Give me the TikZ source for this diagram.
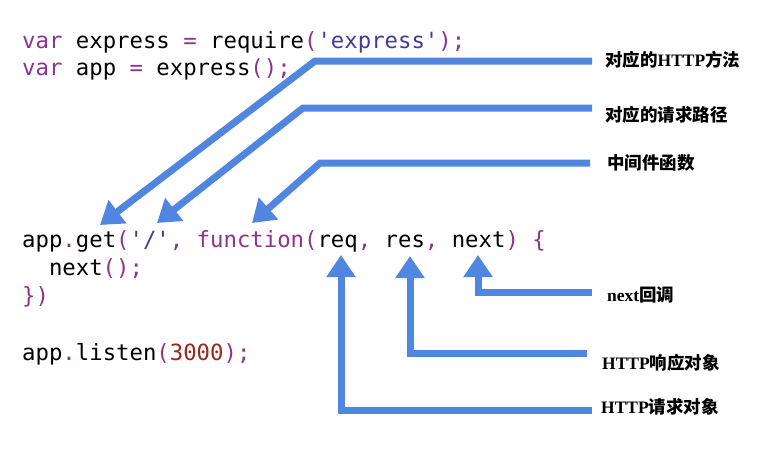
\documentclass[tikz,border=0pt]{standalone}
\usepackage{fontspec}
\usepackage{xcolor}
\usetikzlibrary{arrows.meta}
\setmonofont{DejaVu Sans Mono}
\newfontfamily\cjk{Noto Sans CJK SC}
\newfontfamily\latinlab{Liberation Serif}
\definecolor{kwpurple}{RGB}{140,52,140}
\definecolor{strblue}{RGB}{62,60,158}
\definecolor{numred}{RGB}{150,40,25}
\definecolor{arrowblue}{RGB}{80,134,224}
\newcommand{\kw}[1]{\textcolor{kwpurple}{#1}}
\newcommand{\str}[1]{\textcolor{strblue}{#1}}
\newcommand{\num}[1]{\textcolor{numred}{#1}}
\newcommand{\lt}[1]{{\latinlab\bfseries #1}}

\begin{document}
\begin{tikzpicture}[x=1pt, y=-1pt,
    codeline/.style={anchor=base west, inner sep=0pt, font=\ttfamily\fontsize{22.3}{28}\selectfont},
    lab/.style={anchor=west, inner sep=0pt, font=\cjk\bfseries\fontsize{17.5}{20}\selectfont},
    callout/.style={draw=arrowblue, line width=7pt, -{Triangle[width=28pt,length=22pt]}}]
    \useasboundingbox[fill=white] (0,0) rectangle (782,451);

    % Code lines
    \node[codeline] (l1) at (22,48) {\kw{var} express \kw{=} require\kw{(}\str{'express'}\kw{);}};
    \node[codeline] (l2) at (22,75) {\kw{var} app \kw{=} express\kw{();}};
    \node[codeline] (l3) at (22,247) {app\kw{.}get\kw{(}\str{'/'}\kw{,} \kw{function(}req\kw{,} res\kw{,} next\kw{)} \kw{\{}};
    \node[codeline] (l4) at (48.8,275) {next\kw{();}};
    \node[codeline] (l5) at (22,303) {\kw{\})}};
    \node[codeline] (l6) at (22,360) {app\kw{.}listen\kw{(}\num{3000}\kw{);}};

    % Labels
    \node[lab] (method) at (605,60) {对应的\lt{HTTP}方法};
    \node[lab] (path) at (605,115) {对应的请求路径};
    \node[lab] (mw) at (607,163) {中间件函数};
    \node[lab] (nextcb) at (607,295) {\lt{next}回调};
    \node[lab] (resobj) at (602,363) {\lt{HTTP}响应对象};
    \node[lab] (reqobj) at (601,407) {\lt{HTTP}请求对象};

    % Arrow points
    \coordinate (s1) at (592,61);  \coordinate (b1) at (315,61);  \coordinate (t1) at (100,225);
    \coordinate (s2) at (592,108); \coordinate (b2) at (303,108); \coordinate (t2) at (157,223);
    \coordinate (s3) at (590,163); \coordinate (b3) at (320,163); \coordinate (t3) at (252,223);
    \coordinate (s4) at (592,292); \coordinate (b4) at (478,292); \coordinate (t4) at (478,255);
    \coordinate (s5) at (587,353); \coordinate (b5) at (410,353); \coordinate (t5) at (410,256);
    \coordinate (s6) at (592,410); \coordinate (b6) at (341,410); \coordinate (t6) at (341,255);

    % Arrows
    \draw[callout] (s1) -- (b1) -- (t1);
    \draw[callout] (s2) -- (b2) -- (t2);
    \draw[callout] (s3) -- (b3) -- (t3);
    \draw[callout] (s4) -- (b4) -- (t4);
    \draw[callout] (s5) -- (b5) -- (t5);
    \draw[callout] (s6) -- (b6) -- (t6);
\end{tikzpicture}
\end{document}
